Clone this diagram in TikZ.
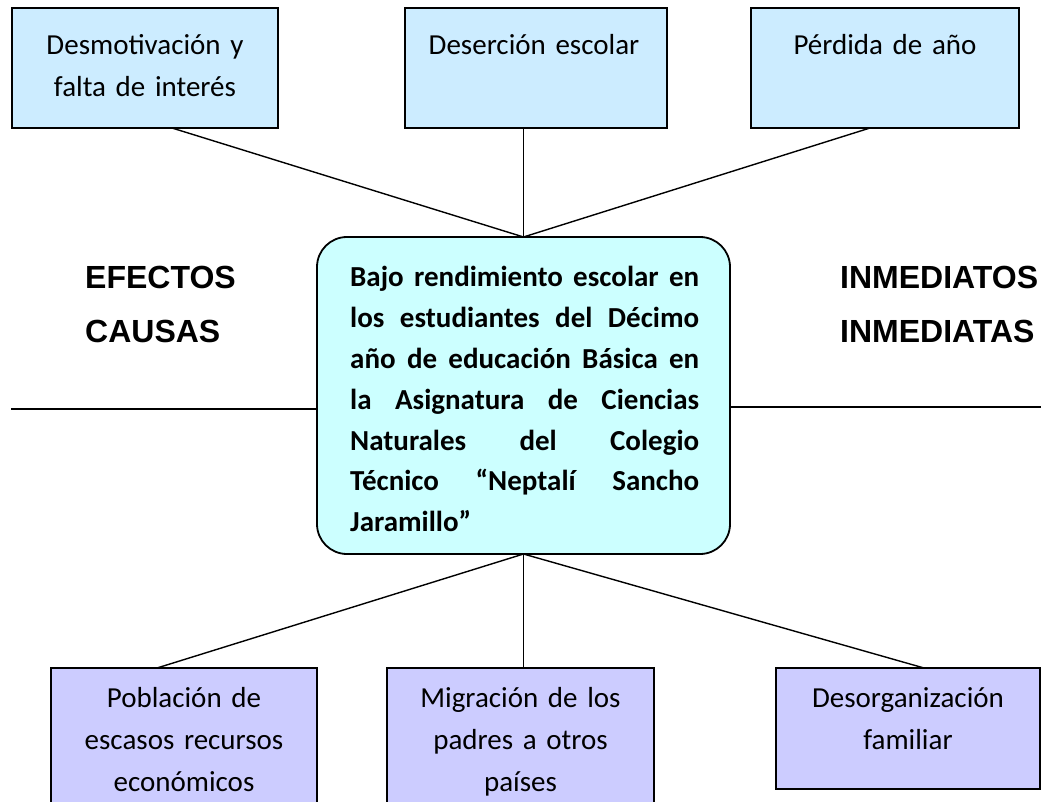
\documentclass[tikz,border=0pt]{standalone}
\usepackage{fontspec}
\setmainfont{Carlito}
\newfontfamily\headfont{Liberation Sans}
\usetikzlibrary{calc}
\definecolor{efcol}{HTML}{CCECFF}
\definecolor{cacol}{HTML}{CCCCFF}
\definecolor{cecol}{HTML}{CCFFFF}
\newcommand{\jline}[1]{\leavevmode\hbox to 349pt{#1}}
\begin{document}
\begin{tikzpicture}[x=1pt,y=-1pt,
  boxbase/.style={draw, line width=1.8pt, anchor=north west, inner sep=0pt, outer sep=0pt},
  efbox/.style={boxbase, fill=efcol},
  cabox/.style={boxbase, fill=cacol},
  cenbox/.style={boxbase, fill=cecol, rounded corners=30pt},
  boxtxt/.style={text width=260pt, align=center, anchor=base, inner sep=0pt, font=\fontsize{29}{42}\selectfont},
  centxt/.style={text width=349pt, align=left, anchor=base west, inner sep=0pt, font=\fontsize{29}{40.8}\selectfont\bfseries},
  headtxt/.style={anchor=base west, inner sep=0pt, font=\headfont\bfseries\fontsize{32}{38}\selectfont},
  conn/.style={line width=1.4pt}]
\clip (0,0) rectangle (1041,802);
\useasboundingbox (0,0) rectangle (1041,802);

% effect boxes
\node[efbox, minimum width=266pt, minimum height=120pt] (e1) at (12,8) {};
\node[efbox, minimum width=262pt, minimum height=120pt] (e2) at (405,8) {};
\node[efbox, minimum width=268pt, minimum height=120pt] (e3) at (751,8) {};
\node[boxtxt] (e1t) at (145,55) {Desmotivación y\\falta de interés};
\node[boxtxt] (e2t) at (534,55) {Deserción escolar};
\node[boxtxt] (e3t) at (885,55) {Pérdida de año};

% central box
\node[cenbox, minimum width=413pt, minimum height=317pt] (c) at (317,237) {};
\node[centxt] (ct) at (350,287) {%
\jline{Bajo\hfill rendimiento\hfill escolar\hfill en}\\
\jline{los\hfill estudiantes\hfill del\hfill Décimo}\\
\jline{año\hfill de\hfill educación\hfill Básica\hfill en}\\
\jline{la\hfill Asignatura\hfill de\hfill Ciencias}\\
\jline{Naturales\hfill del\hfill Colegio}\\
\jline{Técnico\hfill “Neptalí\hfill Sancho}\\
Jaramillo”};

% cause boxes
\node[cabox, minimum width=266pt, minimum height=160pt] (k1) at (51,668) {};
\node[cabox, minimum width=267pt, minimum height=160pt] (k2) at (387,668) {};
\node[cabox, minimum width=264pt, minimum height=121pt] (k3) at (776,668) {};
\node[boxtxt] (k1t) at (184,707) {Población de\\escasos recursos\\económicos};
\node[boxtxt] (k2t) at (520.5,707) {Migración de los\\padres a otros\\países};
\node[boxtxt] (k3t) at (908,707) {Desorganización\\familiar};

% headings
\node[headtxt] (h1) at (85,288) {EFECTOS};
\node[headtxt] (h2) at (85,342) {CAUSAS};
\node[headtxt] (h3) at (840,288) {INMEDIATOS};
\node[headtxt] (h4) at (840,342) {INMEDIATAS};

% connectors
\draw[conn] ([xshift=27pt]e1.south) -- (c.north);
\draw[conn] (c.north |- e2.south) -- (c.north);
\draw[conn] ([xshift=-15pt]e3.south) -- (c.north);
\draw[conn] (c.south) -- ([xshift=-27pt]k1.north);
\draw[conn] (c.south) -- (c.south |- k2.north);
\draw[conn] (c.south) -- ([xshift=16pt]k3.north);
\coordinate (hl) at (11,409);
\coordinate (hr) at (1041,407);
\draw[conn] (hl) -- (hl -| c.west);
\draw[conn] (c.east |- hr) -- (hr);
\end{tikzpicture}
\end{document}
